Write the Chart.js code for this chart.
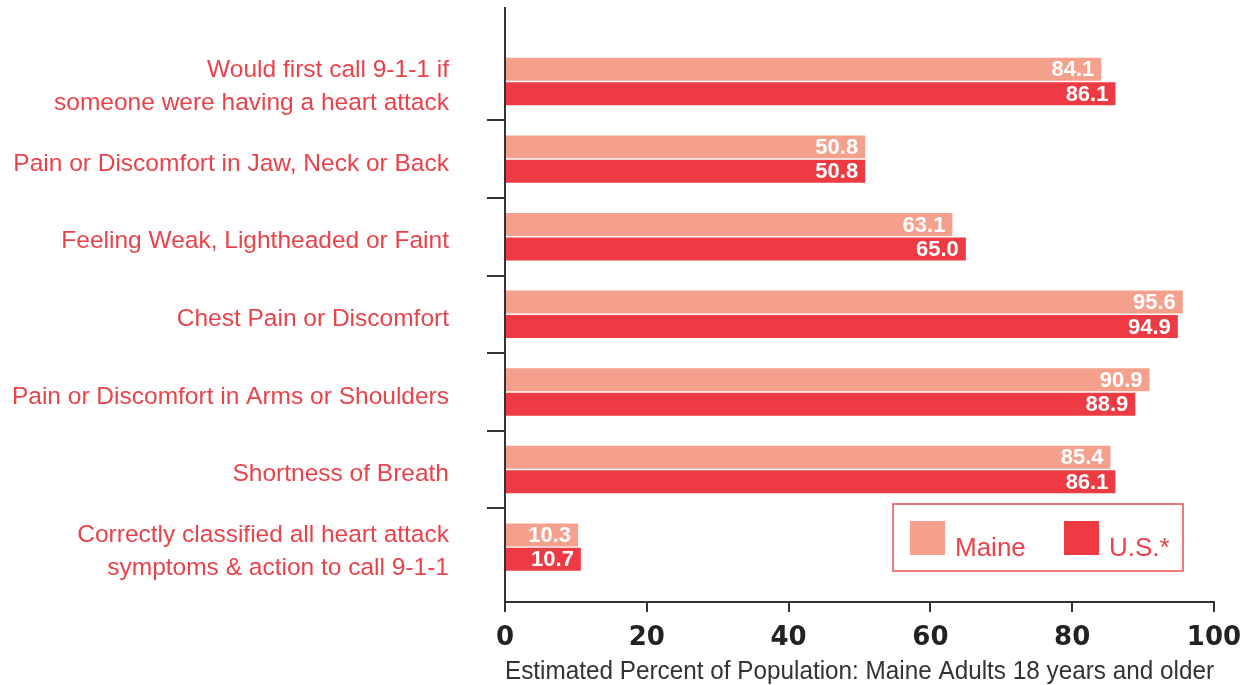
<!DOCTYPE html>
<html>
<head>
<meta charset="utf-8">
<script src="https://cdn.jsdelivr.net/npm/chart.js@4.4.1/dist/chart.umd.min.js"></script>
<style>
  html, body { margin: 0; padding: 0; background: #fff; }
  #wrap { position: relative; width: 1249px; height: 685px; }
</style>
</head>
<body>
<div id="wrap"><canvas id="chart"></canvas></div>
<script>
// Data
const categories = [
    ['Would first call 9-1-1 if', 'someone were having a heart attack'],
    'Pain or Discomfort in Jaw, Neck or Back',
    'Feeling Weak, Lightheaded or Faint',
    'Chest Pain or Discomfort',
    'Pain or Discomfort in Arms or Shoulders',
    'Shortness of Breath',
    ['Correctly classified all heart attack', 'symptoms & action to call 9-1-1']
];
const maineValues = [84.1, 50.8, 63.1, 95.6, 90.9, 85.4, 10.3];
const usValues = [86.1, 50.8, 65.0, 94.9, 88.9, 86.1, 10.7];
const xTicks = [0, 20, 40, 60, 80, 100];
const xTitle = 'Estimated Percent of Population: Maine Adults 18 years and older';

const MAINE = '#F5A08C';
const US = '#EE3A43';
const TEXT_RED = '#E8434B';
const AXIS = '#333333';
const SANS = '"Liberation Sans", Arial, sans-serif';

// value labels drawn inside the bar ends
const valueLabels = {
    id: 'valueLabels',
    afterDatasetsDraw(chart) {
        const ctx = chart.ctx;
        ctx.save();
        ctx.font = 'bold 22px ' + SANS;
        ctx.fillStyle = '#fff';
        ctx.textAlign = 'right';
        ctx.textBaseline = 'middle';
        chart.data.datasets.forEach((ds, di) => {
            chart.getDatasetMeta(di).data.forEach((bar, i) => {
                ctx.fillText(ds.data[i].x.toFixed(1), bar.x - 7, bar.y + 1);
            });
        });
        ctx.restore();
    }
};

// boxed legend in the lower right of the plot
const boxLegend = {
    id: 'boxLegend',
    afterDraw(chart) {
        const ctx = chart.ctx;
        const area = chart.chartArea;
        const right = area.right - 31, bottom = area.bottom - 31;
        const left = right - 290, top = bottom - 67;
        ctx.save();
        ctx.strokeStyle = '#EA4E57';
        ctx.lineWidth = 1.5;
        ctx.strokeRect(left, top, right - left, bottom - top);
        ctx.font = '26px ' + SANS;
        ctx.textBaseline = 'alphabetic';
        ctx.textAlign = 'left';
        let x = left + 17;
        chart.data.datasets.forEach(ds => {
            ctx.fillStyle = ds.backgroundColor;
            ctx.fillRect(x, top + 17, 35, 34);
            ctx.fillStyle = TEXT_RED;
            ctx.fillText(ds.label, x + 45, top + 52);
            x += 154;
        });
        ctx.restore();
    }
};

const ctx = document.getElementById('chart').getContext('2d');
new Chart(ctx, {
    type: 'bar',
    data: {
        datasets: [{
            label: 'Maine',
            data: maineValues.map((v, i) => ({ x: v, y: i })),
            backgroundColor: MAINE
        }, {
            label: 'U.S.*',
            data: usValues.map((v, i) => ({ x: v, y: i })),
            backgroundColor: US
        }]
    },
    options: {
        indexAxis: 'y',
        responsive: true,
        maintainAspectRatio: false,
        animation: false,
        categoryPercentage: 0.63,
        barPercentage: 0.94,
        layout: { padding: { left: 0, top: 8, right: 35, bottom: 0 } },
        plugins: {
            legend: { display: false },
            tooltip: { enabled: false }
        },
        scales: {
            y: {
                type: 'linear',
                reverse: true,
                offset: false,
                min: -0.947,
                max: 6.707,
                afterBuildTicks: s => { s.ticks = categories.map((c, i) => ({ value: i })); },
                afterFit: s => { s.width = 505; s.paddingTop = 0; s.paddingBottom = 0; },
                border: { color: AXIS, width: 2 },
                grid: {
                    drawOnChartArea: false,
                    offset: true,
                    tickLength: 18,
                    lineWidth: 2,
                    // only the separators between categories, not the outer ends
                    color: c => (c.type !== 'tick' || c.index === 0) ? 'rgba(0,0,0,0)' : AXIS
                },
                ticks: {
                    padding: 38,
                    labelOffset: 5,
                    color: TEXT_RED,
                    font: { family: SANS, size: 24.5, lineHeight: 1.35 },
                    callback: (v, i) => categories[i]
                }
            },
            x: {
                min: 0,
                max: 100,
                afterBuildTicks: s => { s.ticks = xTicks.map(v => ({ value: v })); },
                afterFit: s => { s.height = 83; s.paddingLeft = 0; s.paddingRight = 0; },
                border: { color: AXIS, width: 2 },
                grid: {
                    drawOnChartArea: false,
                    tickLength: 10,
                    lineWidth: 2,
                    color: AXIS
                },
                ticks: {
                    padding: 11,
                    color: '#222',
                    font: { family: '"DejaVu Sans", sans-serif', size: 26, weight: 'bold' }
                },
                title: {
                    display: true,
                    text: xTitle,
                    color: '#333',
                    padding: 0,
                    font: { family: SANS, size: 25, lineHeight: 1 }
                }
            }
        }
    },
    plugins: [valueLabels, boxLegend]
});
</script>
</body>
</html>
